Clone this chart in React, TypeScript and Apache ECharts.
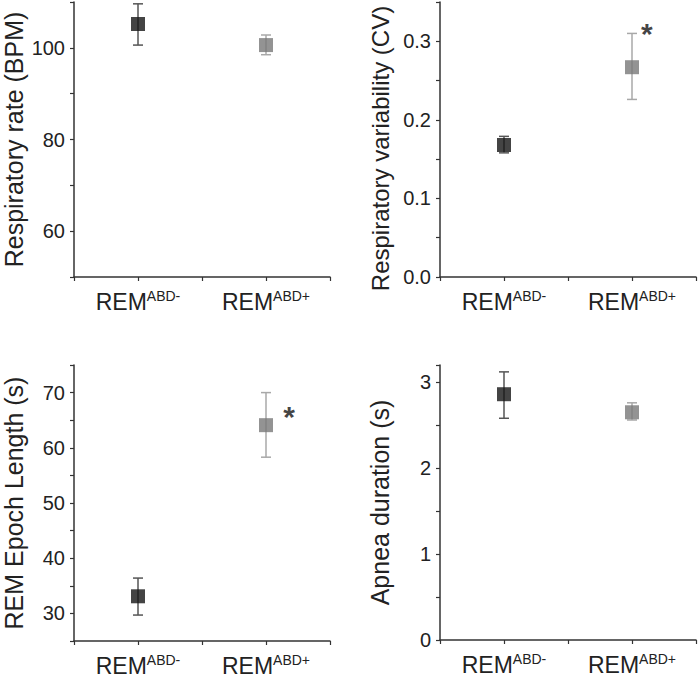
import React, { useEffect, useRef } from "react";
import * as echarts from "echarts";

const groups = ["ABD-", "ABD+"];
const groupX = [1, 3];

const rateMean = [105.2, 100.6];
const rateLo = [100.6, 98.5];
const rateHi = [109.6, 102.8];

const cvMean = [0.168, 0.267];
const cvLo = [0.158, 0.226];
const cvHi = [0.179, 0.31];

const epochMean = [33.1, 64.1];
const epochLo = [29.7, 58.3];
const epochHi = [36.4, 70.0];

const apneaMean = [2.86, 2.65];
const apneaLo = [2.58, 2.56];
const apneaHi = [3.12, 2.76];

const cvStar = [3.23, 0.315];
const epochStar = [3.36, 66.4];

const markerColors = ["#151515", "#787878"];
const barColors = ["#555555", "#a8a8a8"];
const FONT = "'Liberation Sans', Arial, Helvetica, sans-serif";

export default function App() {
  const ref = useRef<HTMLDivElement>(null);
  useEffect(() => {
    if (!ref.current) return;
    const chart = echarts.init(ref.current, null, { renderer: "svg" });

    const grids = [
      { left: 74, top: 2, width: 256, height: 275 },
      { left: 440, top: 2, width: 256, height: 275 },
      { left: 74, top: 365, width: 256, height: 276 },
      { left: 440, top: 365, width: 256, height: 275 },
    ].map((g) => ({ ...g, containLabel: false, outerBoundsMode: "none" }));

    const axisLine = { show: true, lineStyle: { color: "#333", width: 1.5 } };

    const xAxes = grids.map((_, i) => ({
      type: "value",
      gridIndex: i,
      min: 0,
      max: 4,
      interval: 1,
      splitLine: { show: false },
      axisLine,
      axisTick: { show: true, length: 4, lineStyle: { color: "#333", width: 1.2 } },
      axisLabel: {
        margin: 12,
        fontFamily: FONT,
        color: "#222",
        formatter: (v: number) => {
          const idx = groupX.indexOf(v);
          return idx >= 0 ? `{a|REM}{b|${groups[idx]}}` : "";
        },
        rich: {
          a: { fontSize: 23, fontFamily: FONT, color: "#222", lineHeight: 24, verticalAlign: "bottom" },
          b: { fontSize: 14, fontFamily: FONT, color: "#222", lineHeight: 24, verticalAlign: "top", padding: [0, 0, 8, 0] },
        },
      },
    }));

    const yBase = (
      i: number,
      name: string,
      min: number,
      max: number,
      interval: number,
      fmt: (v: number) => string,
      nameSize: number,
      namePad: number[]
    ) => ({
      type: "value",
      gridIndex: i,
      min,
      max,
      interval,
      name,
      nameLocation: "middle",
      nameGap: 48,
      nameRotate: 90,
      nameTextStyle: { fontSize: nameSize, fontFamily: FONT, color: "#222", padding: namePad },
      splitLine: { show: false },
      axisLine,
      axisTick: { show: true, length: 4, lineStyle: { color: "#333", width: 1.2 } },
      axisLabel: { fontSize: 20, fontFamily: FONT, color: "#222", margin: 9, formatter: fmt },
    });

    const yAxes = [
      yBase(0, "Respiratory rate (BPM)", 50, 110, 10, (v) => (Math.round(v) % 20 === 0 ? String(v) : ""), 25, [0, 0, 0, 0]),
      yBase(
        1,
        "Respiratory variability (CV)",
        0,
        0.35,
        0.05,
        (v) => (Math.round(v * 100) % 10 === 0 ? v.toFixed(1) : ""),
        24,
        [0, 18, 0, 0]
      ),
      yBase(2, "REM Epoch Length (s)", 25, 75, 5, (v) => (Math.round(v) % 10 === 0 ? String(v) : ""), 25, [0, 0, 0, 0]),
      yBase(
        3,
        "Apnea duration (s)",
        0,
        3.2,
        0.5,
        (v) => (Math.abs(v - Math.round(v)) < 1e-9 ? String(Math.round(v)) : ""),
        25,
        [0, 0, 0, 0]
      ),
    ];

    const panels = [
      { mean: rateMean, lo: rateLo, hi: rateHi },
      { mean: cvMean, lo: cvLo, hi: cvHi },
      { mean: epochMean, lo: epochLo, hi: epochHi },
      { mean: apneaMean, lo: apneaLo, hi: apneaHi },
    ];

    const series: any[] = [];
    panels.forEach((p, i) => {
      series.push({
        type: "custom",
        xAxisIndex: i,
        yAxisIndex: i,
        data: groupX.map((x, k) => [x, p.lo[k], p.hi[k]]),
        renderItem: (params: any, api: any) => {
          const x = api.value(0);
          const lo = api.coord([x, api.value(1)]);
          const hi = api.coord([x, api.value(2)]);
          const c = barColors[params.dataIndex];
          const cap = 5;
          const style = { stroke: c, lineWidth: 1.5 };
          return {
            type: "group",
            children: [
              { type: "line", shape: { x1: lo[0], y1: lo[1], x2: hi[0], y2: hi[1] }, style },
              { type: "line", shape: { x1: hi[0] - cap, y1: hi[1], x2: hi[0] + cap, y2: hi[1] }, style },
              { type: "line", shape: { x1: lo[0] - cap, y1: lo[1], x2: lo[0] + cap, y2: lo[1] }, style },
            ],
          };
        },
        z: 1,
      });
      series.push({
        type: "scatter",
        xAxisIndex: i,
        yAxisIndex: i,
        symbol: "rect",
        symbolSize: 14,
        data: groupX.map((x, k) => ({
          value: [x, p.mean[k]],
          itemStyle: { color: markerColors[k] },
        })),
        z: 3,
      });
    });

    const starSeries = (i: number, pos: number[]) => ({
      type: "scatter",
      xAxisIndex: i,
      yAxisIndex: i,
      symbolSize: 0,
      data: [pos],
      label: {
        show: true,
        position: "inside",
        formatter: "*",
        fontSize: 30,
        fontWeight: "bold",
        fontFamily: FONT,
        color: "#111",
        offset: [0, 4],
      },
      z: 4,
    });
    series.push(starSeries(1, cvStar));
    series.push(starSeries(2, epochStar));

    chart.setOption({
      animation: false,
      backgroundColor: "#ffffff",
      grid: grids,
      xAxis: xAxes,
      yAxis: yAxes,
      series,
    });
    return () => chart.dispose();
  }, []);

  return (
    <div
      ref={ref}
      style={{ position: "absolute", left: 0, top: 0, width: 700, height: 680 }}
    />
  );
}
